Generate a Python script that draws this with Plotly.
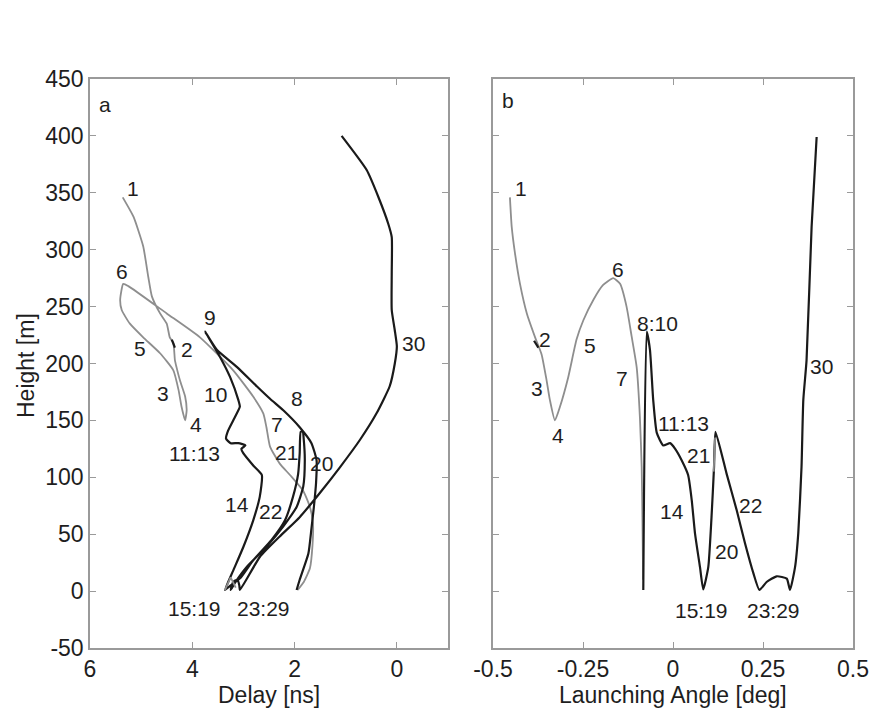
import plotly.graph_objects as go

# ---------------- data ----------------
# Panel a: Delay [ns] vs Height [m]
a_gray_delay = [5.36, 5.15, 4.96, 4.86, 4.79, 4.63, 4.50, 4.44, 4.37, 4.34, 4.31, 4.24, 4.14, 4.11, 4.14,
                4.21, 4.27, 4.37, 4.63, 4.96, 5.22, 5.38, 5.41, 5.35, 5.25, 4.50, 3.85, 3.20, 2.81,
                2.61, 2.55, 2.48, 2.29, 2.09, 1.83, 1.70, 1.64, 1.65, 1.70, 1.82, 1.94]
a_gray_height = [346, 329, 303, 276, 259, 244, 235, 223, 218, 203, 197, 185, 171, 159, 150,
                 162, 177, 194, 209, 223, 235, 247, 256, 270, 268, 244, 223, 194, 171,
                 156, 144, 127, 112, 102, 88, 74, 60, 40, 20, 8, 1]

a_black_delay = [1.96, 1.90, 1.73, 1.67, 1.62, 1.58, 1.57, 1.67, 1.90, 2.20, 2.48, 2.74, 3.13, 3.52, 3.75,
                 3.46, 3.26, 3.10, 3.07, 3.20, 3.30, 3.34, 3.25, 3.10, 2.96, 3.04, 3.00, 2.80, 2.64,
                 2.68, 2.81, 3.00, 3.20, 3.36,
                 3.28, 3.05, 2.81, 2.45, 2.19, 2.03, 1.93, 1.90, 1.88, 1.84, 1.82, 1.80, 1.83, 1.96,
                 2.22, 2.55, 2.94, 3.17, 3.25, 3.20, 3.12, 3.08, 3.07,
                 2.68, 2.29, 1.90, 1.51, 1.11, 0.72, 0.40, 0.14, 0.04, 0.00, 0.04, 0.10, 0.10, 0.10,
                 0.17, 0.35, 0.59, 1.08]
a_black_height = [1, 10, 33, 55, 75, 95, 115, 130, 144, 158, 169, 180, 197, 212, 228,
                  206, 188, 168, 162, 150, 141, 134, 130, 130, 128, 125, 121, 110, 102,
                  83, 62, 39, 18, 1,
                  4, 12, 27, 45, 62, 83, 103, 121, 140, 140, 133, 115, 92, 74,
                  57, 39, 21, 7, 1, 8, 10, 5, 1,
                  30, 48, 65, 86, 109, 133, 156, 180, 200, 215, 229, 247, 280, 311,
                  323, 345, 370, 400]

a_mark_gray_delay = [3.36, 3.25, 3.15]
a_mark_gray_height = [1, 12, 3]
a_mark_black_delay = [4.40, 4.34]
a_mark_black_height = [221, 214]

# Panel b: Launching Angle [deg] vs Height [m]
b_gray_angle = [-0.453, -0.448, -0.439, -0.425, -0.406, -0.383, -0.365, -0.351, -0.342, -0.328,
                -0.314, -0.291, -0.268, -0.249, -0.221, -0.194, -0.166, -0.147, -0.129, -0.115,
                -0.101, -0.092, -0.087, -0.085, -0.083]
b_gray_height = [346, 320, 297, 270, 244, 223, 208, 185, 168, 150,
                 162, 188, 221, 238, 256, 269, 275, 270, 250, 224,
                 197, 153, 109, 65, 10]

b_black_angle = [-0.0825, -0.073, -0.064, -0.055, -0.045, -0.027, -0.008, 0.006, 0.024, 0.042,
                 0.052, 0.061, 0.075, 0.084, 0.098, 0.107, 0.114, 0.118, 0.149, 0.177,
                 0.200, 0.223, 0.240, 0.260, 0.288, 0.316, 0.325, 0.339, 0.348, 0.357,
                 0.362, 0.371, 0.385, 0.399]
b_black_height = [1, 228, 212, 168, 139, 128, 130, 125, 115, 102,
                  80, 51, 21, 1.5, 21, 65, 109, 140, 103, 71,
                  42, 16, 1, 8, 13, 11, 1, 21, 51, 109,
                  168, 203, 320, 399]

b_mark_gray_angle = [0.113, 0.117]
b_mark_gray_height = [105, 135]
b_mark_black_angle = [-0.386, -0.374]
b_mark_black_height = [220, 214]

# ray labels
a_lab_text = ["1", "6", "5", "2", "3", "4", "9", "10", "8", "7", "21", "11:13", "20", "14", "22",
              "30", "15:19", "23:29"]
a_lab_x = [5.15, 5.38, 5.02, 4.11, 4.57, 3.93, 3.65, 3.54, 1.96, 2.35, 2.16, 3.95, 1.47, 3.13, 2.48,
           -0.32, 3.95, 2.61]
a_lab_y = [354, 281, 213, 212, 174, 146, 240, 173, 169, 146, 122, 121, 112, 76, 70,
           218, -15, -15]

b_lab_text = ["1", "2", "3", "4", "5", "6", "7", "8:10", "11:13", "21", "14", "22", "20",
              "15:19", "23:29", "30"]
b_lab_x = [-0.422, -0.356, -0.379, -0.319, -0.231, -0.154, -0.142, -0.042, 0.028, 0.070, -0.004,
           0.214, 0.149, 0.080, 0.279, 0.413]
b_lab_y = [354, 221, 178, 137, 216, 283, 187, 235, 147, 119, 70, 75, 35, -17, -17, 197]

a_xticks = [6, 4, 2, 0]
b_xticks = [-0.5, -0.25, 0, 0.25, 0.5]
b_xtick_text = ["-0.5", "-0.25", "0", "0.25", "0.5"]
yticks = [-50, 0, 50, 100, 150, 200, 250, 300, 350, 400, 450]
ytick_text = ["-50", "0", "50", "100", "150", "200", "250", "300", "350", "400", "450"]

# ---------------- styling ----------------
W, H = 873, 712
FONT = "Liberation Sans, Arial, Helvetica, sans-serif"
TXT = "#1e1e1e"
BLACK = "#1a1a1a"
GRAY = "#8e8e8e"
BOX = "#9a9a9a"

ax_a = (90, 448)
ax_b = (493, 853)
y_top, y_bot = 79, 648


def px2paper_x(p):
    return p / W


def px2paper_y(p):
    return 1 - p / H


fig = go.Figure()

line_gray = dict(color=GRAY, width=1.8, shape="spline", smoothing=0.5)
line_black = dict(color=BLACK, width=2.2, shape="spline", smoothing=0.5)
seg_gray = dict(color=GRAY, width=1.8)
seg_black = dict(color=BLACK, width=2.2)

fig.add_trace(go.Scatter(x=a_gray_delay, y=a_gray_height, mode="lines", line=line_gray,
                         xaxis="x", yaxis="y", hoverinfo="skip"))
fig.add_trace(go.Scatter(x=a_black_delay, y=a_black_height, mode="lines", line=line_black,
                         xaxis="x", yaxis="y", hoverinfo="skip"))
fig.add_trace(go.Scatter(x=a_mark_gray_delay, y=a_mark_gray_height, mode="lines", line=seg_gray,
                         xaxis="x", yaxis="y", hoverinfo="skip"))
fig.add_trace(go.Scatter(x=a_mark_black_delay, y=a_mark_black_height, mode="lines", line=seg_black,
                         xaxis="x", yaxis="y", hoverinfo="skip"))

fig.add_trace(go.Scatter(x=b_gray_angle, y=b_gray_height, mode="lines", line=line_gray,
                         xaxis="x2", yaxis="y2", hoverinfo="skip"))
fig.add_trace(go.Scatter(x=b_black_angle, y=b_black_height, mode="lines", line=line_black,
                         xaxis="x2", yaxis="y2", hoverinfo="skip"))
fig.add_trace(go.Scatter(x=b_mark_gray_angle, y=b_mark_gray_height, mode="lines", line=seg_gray,
                         xaxis="x2", yaxis="y2", hoverinfo="skip"))
fig.add_trace(go.Scatter(x=b_mark_black_angle, y=b_mark_black_height, mode="lines", line=seg_black,
                         xaxis="x2", yaxis="y2", hoverinfo="skip"))

axis_common = dict(showline=True, linecolor=BOX, linewidth=1.5, mirror="ticks",
                   ticks="inside", ticklen=6, tickwidth=1.2, tickcolor=BOX,
                   showgrid=False, zeroline=False, automargin=False,
                   tickfont=dict(family=FONT, size=23, color=TXT))

ydom = [px2paper_y(y_bot), px2paper_y(y_top)]

fig.update_layout(
    width=W, height=H,
    margin=dict(l=0, r=0, t=0, b=0),
    paper_bgcolor="white", plot_bgcolor="white",
    showlegend=False,
    template="none",
    xaxis=dict(axis_common, domain=[px2paper_x(ax_a[0]), px2paper_x(ax_a[1])],
               range=[6, -1], tickvals=a_xticks, ticklabelstandoff=0, anchor="y"),
    yaxis=dict(axis_common, domain=ydom, range=[-50, 450], tickvals=yticks, ticktext=ytick_text,
               ticklabelstandoff=0, anchor="x"),
    xaxis2=dict(axis_common, domain=[px2paper_x(ax_b[0]), px2paper_x(ax_b[1])],
                range=[-0.5, 0.5], tickvals=b_xticks, ticktext=b_xtick_text,
                ticklabelstandoff=0, anchor="y2"),
    yaxis2=dict(axis_common, domain=ydom, range=[-50, 450], tickvals=yticks,
                showticklabels=False, anchor="x2"),
)

LAB = dict(family=FONT, size=21, color=TXT)
annots = []
for t, x, y in zip(a_lab_text, a_lab_x, a_lab_y):
    annots.append(dict(x=x, y=y, xref="x", yref="y", text=t, showarrow=False,
                       font=LAB, xanchor="center", yanchor="middle"))
for t, x, y in zip(b_lab_text, b_lab_x, b_lab_y):
    annots.append(dict(x=x, y=y, xref="x2", yref="y2", text=t, showarrow=False,
                       font=LAB, xanchor="center", yanchor="middle"))

annots.append(dict(x=5.71, y=428, xref="x", yref="y", text="a", showarrow=False,
                   font=LAB, xanchor="center", yanchor="middle"))
annots.append(dict(x=-0.458, y=431, xref="x2", yref="y2", text="b", showarrow=False,
                   font=LAB, xanchor="center", yanchor="middle"))

annots.append(dict(x=px2paper_x(269), y=px2paper_y(695), xref="paper", yref="paper",
                   text="Delay [ns]", showarrow=False,
                   font=dict(family=FONT, size=23, color=TXT), xanchor="center", yanchor="middle"))
annots.append(dict(x=px2paper_x(673), y=px2paper_y(695), xref="paper", yref="paper",
                   text="Launching Angle [deg]", showarrow=False,
                   font=dict(family=FONT, size=23, color=TXT), xanchor="center", yanchor="middle"))
annots.append(dict(x=px2paper_x(26), y=px2paper_y(366), xref="paper", yref="paper",
                   text="Height [m]", showarrow=False, textangle=-90,
                   font=dict(family=FONT, size=23, color=TXT), xanchor="center", yanchor="middle"))

fig.update_layout(annotations=annots)

fig.write_html("out.html", config={"displayModeBar": False})

# remove the browser's default page margin so the figure sits at (0, 0)
with open("out.html", "r", encoding="utf-8") as f:
    html = f.read()
html = html.replace("<head>", "<head><style>html,body{margin:0;padding:0;overflow:hidden;}</style>", 1)
with open("out.html", "w", encoding="utf-8") as f:
    f.write(html)
